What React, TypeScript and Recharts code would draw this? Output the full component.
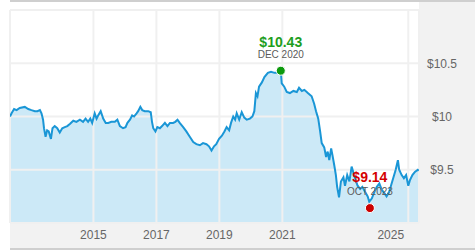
import React from "react";
import {
  ComposedChart,
  Area,
  Line,
  XAxis,
  YAxis,
  CartesianGrid,
  ReferenceDot,
} from "recharts";

// Decimal-year dates of each sample
const dates: number[] = [
  2012.35, 2012.4, 2012.48, 2012.56, 2012.66, 2012.82, 2012.93, 2013.03, 2013.14, 2013.22,
  2013.3, 2013.35, 2013.4, 2013.43, 2013.48, 2013.53, 2013.58, 2013.65, 2013.7, 2013.77,
  2013.85, 2013.93, 2014.01, 2014.09, 2014.17, 2014.25, 2014.36, 2014.46, 2014.57, 2014.67,
  2014.75, 2014.83, 2014.9, 2014.96, 2015.04, 2015.1, 2015.15, 2015.23, 2015.31, 2015.39,
  2015.47, 2015.57, 2015.68, 2015.76, 2015.84, 2015.94, 2016.02, 2016.08, 2016.16, 2016.23,
  2016.29, 2016.37, 2016.42, 2016.49, 2016.55, 2016.63, 2016.74, 2016.82, 2016.86, 2016.9,
  2016.97, 2017.03, 2017.11, 2017.18, 2017.27, 2017.35, 2017.43, 2017.53, 2017.6, 2017.67,
  2017.74, 2017.85, 2017.95, 2018.06, 2018.17, 2018.27, 2018.38, 2018.48, 2018.59, 2018.67,
  2018.75, 2018.83, 2018.9, 2018.99, 2019.08, 2019.16, 2019.23, 2019.31, 2019.37, 2019.44,
  2019.5, 2019.55, 2019.63, 2019.71, 2019.79, 2019.87, 2019.97, 2020.05, 2020.11, 2020.16,
  2020.21, 2020.26, 2020.35, 2020.43, 2020.54, 2020.64, 2020.75, 2020.85, 2020.95, 2020.98,
  2021.06, 2021.14, 2021.24, 2021.35, 2021.46, 2021.53, 2021.62, 2021.7, 2021.81, 2021.93,
  2022.01, 2022.07, 2022.14, 2022.2, 2022.25, 2022.33, 2022.39, 2022.44, 2022.49, 2022.55,
  2022.59, 2022.65, 2022.7, 2022.74, 2022.8, 2022.86, 2022.94, 2022.99, 2023.06, 2023.13,
  2023.2, 2023.25, 2023.31, 2023.39, 2023.47, 2023.54, 2023.63, 2023.71, 2023.76, 2023.84,
  2023.92, 2024.0, 2024.08, 2024.16, 2024.24, 2024.31, 2024.39, 2024.45, 2024.52, 2024.6,
  2024.67, 2024.71, 2024.79, 2024.86, 2024.93, 2025.0, 2025.05, 2025.13, 2025.21, 2025.3,
  2025.33,
];

// Price (NAV) at each date
const prices: number[] = [
  10.0, 10.03, 10.07, 10.06, 10.08, 10.09, 10.07, 10.06, 10.05, 10.05,
  10.06, 10.03, 9.97, 9.89, 9.81, 9.87, 9.86, 9.79, 9.89, 9.91,
  9.89, 9.85, 9.89, 9.9, 9.91, 9.93, 9.96, 9.95, 9.97, 9.95,
  9.98, 9.95, 9.98, 9.94, 10.03, 9.98, 10.01, 10.05, 9.98, 9.94,
  9.94, 9.95, 9.95, 9.97, 9.91, 9.89, 9.9, 9.94, 9.97, 10.01,
  10.0, 10.03, 10.05, 10.09, 10.06, 10.05, 10.05, 10.04, 9.95, 9.89,
  9.86, 9.9, 9.89, 9.91, 9.94, 9.91, 9.94, 9.94, 9.95, 9.97,
  9.94, 9.9, 9.86, 9.81, 9.76, 9.74, 9.73, 9.75, 9.74, 9.72,
  9.68, 9.72, 9.74, 9.79, 9.82, 9.86, 9.9, 9.87, 9.94, 10.0,
  9.97, 10.03, 9.97, 10.04, 9.99, 9.97, 9.98, 10.0, 10.05, 10.22,
  10.19, 10.28, 10.32, 10.37, 10.41, 10.42, 10.41, 10.41, 10.43, 10.31,
  10.28, 10.23, 10.22, 10.24, 10.23, 10.27, 10.24, 10.25, 10.22, 10.19,
  10.12, 10.05, 9.98, 9.86, 9.75, 9.71, 9.62, 9.67, 9.59, 9.7,
  9.64, 9.54, 9.45, 9.34, 9.24, 9.39, 9.43, 9.35, 9.45, 9.39,
  9.53, 9.48, 9.42, 9.35, 9.32, 9.34, 9.29, 9.25, 9.2, 9.23,
  9.29, 9.34, 9.37, 9.31, 9.28, 9.25, 9.29, 9.35, 9.42, 9.5,
  9.59, 9.5, 9.45, 9.42, 9.45, 9.35, 9.4, 9.45, 9.48, 9.5,
  9.49,
];

const xTicks: number[] = [2015, 2017, 2019, 2021, 2025];
const yTicks: number[] = [9.5, 10, 10.5, 11];
const xDomain: number[] = [2012.35, 2025.34];
const yDomain: number[] = [9, 11];

const highPoint = { t: 2020.95, v: 10.43, price: "$10.43", date: "DEC 2020" };
const lowPoint = { t: 2023.78, v: 9.14, price: "$9.14", date: "OCT 2023" };

const data = dates.map((t, i) => ({ t, v: prices[i] }));

const FONT = "'Liberation Sans', Arial, sans-serif";

const XTick = (props: any) => {
  const { x, payload } = props;
  const shift = payload.value >= 2025 ? -17.5 : 0;
  return (
    <text
      x={x + shift}
      y={238.5}
      textAnchor="middle"
      fill="#666"
      fontSize={12}
      fontFamily={FONT}
    >
      {payload.value}
    </text>
  );
};

const YTick = (props: any) => {
  const { y, payload } = props;
  if (payload.value >= 11) return <g />;
  return (
    <text
      x={442}
      y={y}
      dy={4.3}
      textAnchor="middle"
      fill="#666"
      fontSize={12}
      fontFamily={FONT}
    >
      {"$" + payload.value}
    </text>
  );
};

const makeMarker =
  (color: string, textColor: string, price: string, date: string, priceOff: number, dateOff: number) =>
  (p: any) => {
    const { cx, cy } = p;
    return (
      <g>
        <text
          x={cx}
          y={cy - priceOff}
          textAnchor="middle"
          fill={textColor}
          fontSize={14}
          fontWeight="bold"
          fontFamily={FONT}
        >
          {price}
        </text>
        <text
          x={cx}
          y={cy - dateOff}
          textAnchor="middle"
          fill="#5a5a5a"
          fontSize={10}
          fontFamily={FONT}
        >
          {date}
        </text>
        <circle cx={cx} cy={cy} r={4.5} fill={color} stroke="#fff" strokeWidth={1} />
      </g>
    );
  };

export default function App() {
  return (
    <div
      style={{
        position: "absolute",
        left: 0,
        top: 0,
        width: 475,
        height: 250,
        background: "#fff",
        overflow: "hidden",
      }}
    >
      <div
        style={{
          position: "absolute",
          left: 10,
          top: 0,
          width: 465,
          height: 250,
          background: "#f2f2f2",
          borderTop: "2px solid #cfcfcf",
          borderBottom: "2px solid #cfcfcf",
          boxSizing: "border-box",
        }}
      />
      <div
        style={{
          position: "absolute",
          left: 10,
          top: 2,
          width: 409,
          height: 221,
          background: "#fff",
        }}
      />
      <div style={{ position: "absolute", left: 0, top: 0 }}>
        <ComposedChart
          width={475}
          height={250}
          data={data}
          margin={{ top: 10, right: 0, bottom: 0, left: 10 }}
        >
          <XAxis
            dataKey="t"
            type="number"
            domain={xDomain}
            allowDataOverflow
            ticks={xTicks}
            interval={0}
            axisLine={false}
            tickLine={false}
            height={27}
            tick={<XTick />}
          />
          <YAxis
            orientation="right"
            type="number"
            domain={yDomain}
            allowDataOverflow
            ticks={yTicks}
            interval={0}
            axisLine={false}
            tickLine={false}
            width={56}
            tick={<YTick />}
          />
          <Area
            dataKey="v"
            type="linear"
            fill="#cce9f7"
            fillOpacity={1}
            stroke="none"
            baseValue={9}
            isAnimationActive={false}
            zIndex={100}
          />
          <CartesianGrid stroke="#f0f0f0" strokeWidth={2} zIndex={150} />
          <Line
            dataKey="v"
            type="linear"
            stroke="#1a96d6"
            strokeWidth={2}
            dot={false}
            activeDot={false}
            isAnimationActive={false}
            zIndex={400}
          />
          <ReferenceDot
            x={highPoint.t}
            y={highPoint.v}
            r={4.5}
            shape={makeMarker("#0d9a0d", "#1e9e1e", highPoint.price, highPoint.date, 24, 12.5)}
          />
          <ReferenceDot
            x={lowPoint.t}
            y={lowPoint.v}
            r={4.5}
            shape={makeMarker("#cc0000", "#d40000", lowPoint.price, lowPoint.date, 26, 13)}
          />
        </ComposedChart>
      </div>
    </div>
  );
}
